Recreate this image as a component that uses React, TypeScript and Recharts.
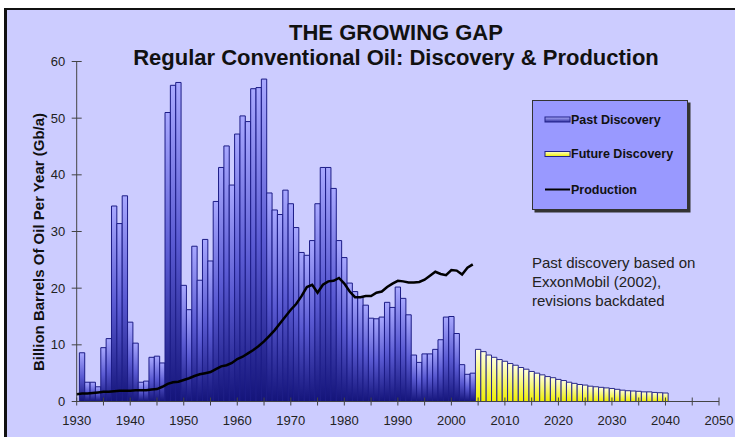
import React from "react";
import { ComposedChart, Bar, Cell, Line, XAxis, YAxis, Legend } from "recharts";

const font = "'Liberation Sans', Arial, sans-serif";

const firstProductionYear = 1930;
const firstPastYear = 1931;
const firstFutureYear = 2005;

// past discovery, Gb/a, 1931-2004
const pastDiscovery = [
  8.6, 3.4, 3.4, 2.6, 9.5, 11.1, 34.5, 31.4, 36.3, 14.0,
  10.3, 3.4, 3.6, 7.8, 8.0, 6.8, 51.0, 55.8, 56.3, 20.5,
  16.2, 27.4, 21.4, 28.6, 24.8, 35.3, 41.3, 45.1, 38.2, 47.2,
  50.4, 49.4, 55.2, 55.4, 56.9, 36.8, 33.8, 33.0, 37.3, 34.9,
  30.7, 26.3, 25.8, 28.4, 34.9, 41.3, 41.3, 37.6, 28.4, 25.4,
  20.9, 19.4, 18.5, 17.0, 14.7, 14.6, 14.9, 17.5, 16.6, 20.2,
  18.2, 15.3, 8.2, 6.9, 8.4, 8.4, 9.2, 10.9, 14.9, 15.0,
  12.0, 6.5, 4.8, 5.0,
];

// future discovery, Gb/a, 2005-2040
const futureDiscovery = [
  9.2, 8.8, 8.2, 7.8, 7.4, 7.1, 6.7, 6.4, 6.0, 5.7,
  5.3, 5.0, 4.7, 4.4, 4.2, 3.9, 3.7, 3.4, 3.2, 3.0,
  2.9, 2.7, 2.6, 2.5, 2.4, 2.3, 2.15, 2.0, 1.9, 1.85,
  1.8, 1.7, 1.7, 1.6, 1.55, 1.5,
];

// production, Gb/a, 1930-2004
const production = [
  1.3, 1.4, 1.4, 1.5, 1.6, 1.7, 1.7, 1.8, 1.9, 1.9,
  1.9, 2.0, 2.0, 2.0, 2.1, 2.2, 2.6, 3.1, 3.4, 3.5,
  3.8, 4.1, 4.5, 4.8, 5.0, 5.2, 5.7, 6.2, 6.4, 6.8,
  7.5, 7.9, 8.5, 9.1, 9.8, 10.6, 11.6, 12.6, 13.8, 15.0,
  16.2, 17.2, 18.6, 20.2, 20.6, 19.2, 20.6, 21.2, 21.3, 21.8,
  20.8, 19.4, 18.4, 18.4, 18.6, 18.6, 19.2, 19.4, 20.2, 20.8,
  21.3, 21.2, 21.0, 21.0, 21.1, 21.5, 22.2, 22.9, 22.5, 22.3,
  23.2, 23.1, 22.4, 23.6, 24.2,
];

const xTicks = [
  1930, 1935, 1940, 1945, 1950, 1955, 1960, 1965, 1970, 1975, 1980, 1985,
  1990, 1995, 2000, 2005, 2010, 2015, 2020, 2025, 2030, 2035, 2040, 2045, 2050,
];
const yTicks = [0, 10, 20, 30, 40, 50, 60];

const lastYear = firstFutureYear + futureDiscovery.length - 1;
const data: {
  year: number;
  discovery: number | null;
  future: boolean;
  production: number | null;
}[] = [];
for (let y = firstProductionYear; y <= lastYear; y++) {
  const p = y - firstPastYear;
  const f = y - firstFutureYear;
  const pr = y - firstProductionYear;
  data.push({
    year: y,
    discovery:
      f >= 0 ? futureDiscovery[f] : p >= 0 && p < pastDiscovery.length ? pastDiscovery[p] : null,
    future: f >= 0,
    production: pr < production.length ? production[pr] : null,
  });
}

function YTick(props: any) {
  const { x, y, payload } = props;
  return (
    <g>
      <line x1={x + 6} x2={x + 16} y1={y} y2={y} stroke="#444" />
      <text x={x - 0.5} y={y} dy="0.35em" textAnchor="end" fontSize={13} fontFamily={font} fill="#222">
        {payload.value}
      </text>
    </g>
  );
}

function XTick(props: any) {
  const { x, y, payload } = props;
  return (
    <g>
      <line x1={x} x2={x} y1={y - 10} y2={y - 2} stroke="#444" />
      {payload.value % 10 === 0 && (
        <text x={x} y={y + 17.5} textAnchor="middle" fontSize={13} fontFamily={font} fill="#222">
          {payload.value}
        </text>
      )}
    </g>
  );
}

function LegendBox() {
  return (
    <svg width={160} height={114} style={{ display: "block" }}>
      <defs>
        <linearGradient id="legPast" x1="0" y1="0" x2="0" y2="1">
          <stop offset="0%" stopColor="#b0b0ff" />
          <stop offset="100%" stopColor="#3030a0" />
        </linearGradient>
        <linearGradient id="legFuture" x1="0" y1="0" x2="0" y2="1">
          <stop offset="0%" stopColor="#ffffd0" />
          <stop offset="100%" stopColor="#f0f000" />
        </linearGradient>
      </defs>
      <rect x={2.5} y={2.5} width={156} height={110} fill="#333" />
      <rect x={0.5} y={0.5} width={155} height={109} fill="#9999ff" stroke="#333" />
      <rect x={13} y={17} width={25} height={5} fill="url(#legPast)" stroke="#222288" />
      <text x={39} y={19.5} dy="0.35em" fontSize={12.5} fontWeight="bold" fontFamily={font} fill="#111">
        Past Discovery
      </text>
      <rect x={13} y={51.5} width={25} height={5} fill="url(#legFuture)" stroke="#222288" />
      <text x={39} y={54} dy="0.35em" fontSize={12.5} fontWeight="bold" fontFamily={font} fill="#111">
        Future Discovery
      </text>
      <line x1={13} x2={38} y1={89.5} y2={89.5} stroke="#000" strokeWidth={2} />
      <text x={39} y={90} dy="0.35em" fontSize={12.5} fontWeight="bold" fontFamily={font} fill="#111">
        Production
      </text>
    </svg>
  );
}

export default function App() {
  return (
    <div
      style={{
        position: "absolute",
        left: 0,
        top: 0,
        width: 735,
        height: 437,
        background: "#fff",
        overflow: "hidden",
        fontFamily: font,
      }}
    >
      <div
        style={{
          position: "absolute",
          left: 4,
          top: 8,
          right: 0,
          bottom: 0,
          background: "#ccccff",
          borderLeft: "3px solid #111",
          borderTop: "2px solid #111",
        }}
      />
      <div
        style={{
          position: "absolute",
          left: 0,
          width: 792,
          top: 20,
          textAlign: "center",
          fontSize: 22,
          fontWeight: "bold",
          lineHeight: "25px",
          color: "#111",
        }}
      >
        <div>THE GROWING GAP</div>
        <div>Regular Conventional Oil: Discovery &amp; Production</div>
      </div>
      <div
        style={{
          position: "absolute",
          left: 38,
          top: 242,
          transform: "translate(-50%, -50%) rotate(-90deg)",
          whiteSpace: "nowrap",
          fontSize: 15,
          fontWeight: "bold",
          color: "#111",
        }}
      >
        Billion Barrels Of Oil Per Year (Gb/a)
      </div>
      <div
        style={{
          position: "absolute",
          left: 532,
          top: 253,
          fontSize: 15,
          lineHeight: "19px",
          color: "#222",
        }}
      >
        Past discovery based on
        <br />
        ExxonMobil (2002),
        <br />
        revisions backdated
      </div>
      <div style={{ position: "absolute", left: 0, top: 0 }}>
        <ComposedChart
          width={735}
          height={437}
          data={data}
          margin={{ top: 61.5, right: 16, bottom: 5.5, left: 16.7 }}
        >
          <defs>
            <linearGradient id="pastFill" x1="0" y1="0" x2="0" y2="1">
              <stop offset="0%" stopColor="#a8a8ff" />
              <stop offset="50%" stopColor="#5a5ad2" />
              <stop offset="100%" stopColor="#14147a" />
            </linearGradient>
            <linearGradient id="futureFill" x1="0" y1="0" x2="0" y2="1">
              <stop offset="0%" stopColor="#ffffe0" />
              <stop offset="100%" stopColor="#eeee00" />
            </linearGradient>
          </defs>
          <XAxis
            dataKey="year"
            type="number"
            domain={[1930, 2050]}
            ticks={xTicks}
            interval={0}
            height={30}
            tickSize={4}
            tickMargin={2}
            tickLine={false}
            axisLine={{ stroke: "#444" }}
            tick={(p: any) => <XTick {...p} />}
          />
          <YAxis
            domain={[0, 60]}
            ticks={yTicks}
            width={60}
            tickSize={5}
            tickMargin={6}
            tickLine={false}
            axisLine={{ stroke: "#444" }}
            tick={(p: any) => <YTick {...p} />}
          />
          <Legend
            layout="vertical"
            align="center"
            verticalAlign="middle"
            wrapperStyle={{ position: "absolute", left: 532, top: 100, width: 160, height: 114 }}
            content={() => <LegendBox />}
          />
          <Bar dataKey="discovery" barSize={5.35} strokeWidth={1} isAnimationActive={false}>
            {data.map((d) => (
              <Cell
                key={d.year}
                fill={d.future ? "url(#futureFill)" : "url(#pastFill)"}
                stroke={d.future ? "#2a2a8a" : "#1c1c86"}
              />
            ))}
          </Bar>
          <Line
            dataKey="production"
            type="linear"
            stroke="#000"
            strokeWidth={2.5}
            dot={false}
            isAnimationActive={false}
          />
        </ComposedChart>
      </div>
    </div>
  );
}
